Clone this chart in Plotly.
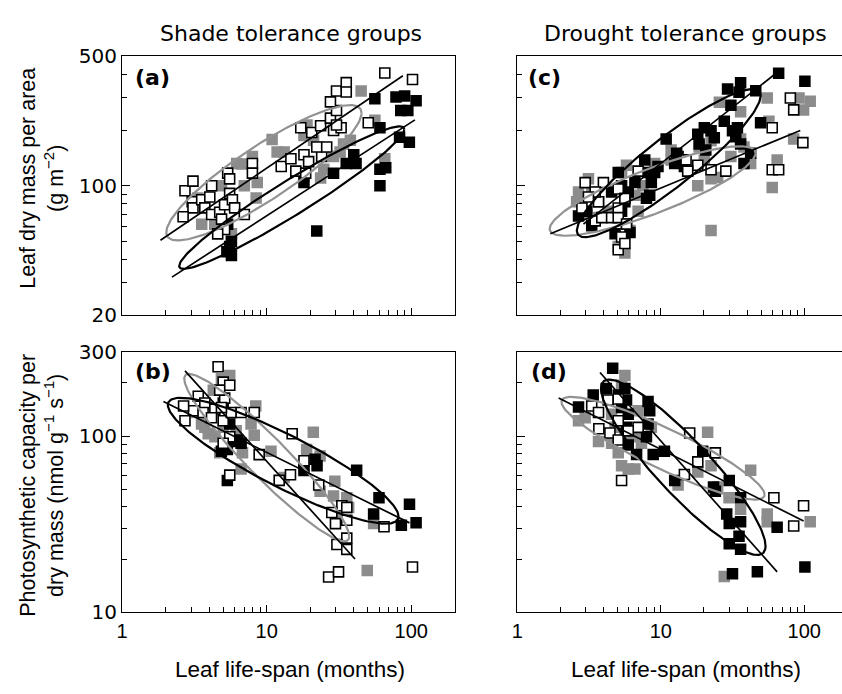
import numpy as np
import plotly.graph_objects as go

# ---------------- data (leaf life-span in months, trait values) ----------------
# Panel (a): leaf dry mass per area, shade tolerance groups
a_white_L = [2.72,3.09,3.05,3.09,2.64,3.55,3.73,4.16,4.04,4.16,4.73,4.87,5.11,5.37,5.54,5.54,5.79,6.0,5.11,4.58,7.0,7.96,7.96,12.6,14.7,15.9,18.1,19.5,18.6,24.0,22.2,20.5,23.6,27.6,29.0,30.4,32.7,27.6,30.4,35.5,35.5,30.4,17.2,26.0,50.4,65.6,102]
a_white_V = [94,106,82,76,68,84,76,100,87,70,72,66,79,117,109,91,84,76,58,55,70,132,117,127,140,120,147,135,117,144,162,194,211,232,199,255,206,284,325,361,321,213,206,162,219,407,375]
a_gray_L = [10.9,13.2,18.1,19.0,45,56,65.6,7.96,8.45,6.7,6.2,7.0,8.6,21.1,34,37.9,29.0,3.55,5.7,3.34,23.6,18.1,24.8,4.87,4.37,32.2,11.8]
a_gray_V = [178,152,187,213,325,226,140,144,86,131,132,100,104,176,168,176,144,62,55,86,110,113,123,100,62,152,152]
a_black_L = [5.3,5.54,5.7,5.7,5.37,22.2,18.1,29,35.5,41.5,56,60.7,60.7,60.7,66.6,78.4,90,84.6,94.7,108,83,97,40]
a_black_V = [44,47,42,50,62,57,104,117,132,132,295,206,100,123,125,302,306,255,255,288,183,172,147]

# Panel (b): photosynthetic capacity, shade tolerance groups
b_white_L = [4.61,5.0,5.12,4.73,5.55,3.36,3.73,3.11,2.66,2.72,3.63,4.38,4.15,5.0,5.69,6.65,8.2,5.55,5.0,5.55,8.87,15.0,12.2,14.6,18.1,22.9,33.1,35.8,28.2,29.9,35.8,35.8,30.6,35.8,26.8,31.4,64.8,102,4.86]
b_white_V = [247,202,164,182,194,168,154,139,148,122,136,142,127,122,136,136,136,99,91,60,78.5,103,56.1,60.3,72.4,52.8,40.3,39.4,36.9,31.9,33.3,26.4,24.3,22.8,15.9,17.0,30.6,18.1,145]
b_gray_L = [4.27,5.55,4.86,3.73,3.94,4.38,5.0,6.15,6.8,8.4,8.2,7.79,10.7,6.65,21.0,18.9,23.4,18.1,23.4,29.6,29.0,35.8,36.9,49.6,54.9,30.6,13.2,3.54,3.27,4.73]
b_gray_V = [182,220,211,112,103,99,112,107,80.3,148,101,117,82,65,105,84,77,65,48.6,55.5,45.7,44.7,39.4,17.3,31.9,34.7,58.3,117,136,80.3]
b_black_L = [5.0,5.34,4.86,5.85,6.31,6.65,5.34,18.1,21.6,22.3,41.9,59.8,54.9,85.4,97.2,108,5.55]
b_black_V = [154,84,82,93,95,91,56,63.8,73.9,67.9,64,44.7,36.2,31.2,41.1,32.2,117]

# Panel (c): leaf dry mass per area, drought tolerance groups
c_white_L = [2.97,2.82,3.68,3.98,3.49,3.88,4.54,5.05,5.05,5.05,5.62,5.77,5.33,5.05,5.62,6.95,15.0,18.1,15.4,22.4,28.4,59.8,80.0,84.4,97.8,59.8,66.3,3.49,3.13]
c_white_V = [104,75.8,82,104,64.6,67.3,67.3,96,75.8,67.3,85.5,62.1,52.9,45.1,48.8,120,138,129,120,122,120,206,298,257,171,122,122,92.5,87]
c_gray_L = [2.67,2.59,3.30,3.13,3.05,3.68,4.3,5.33,5.77,6.95,6.1,5.62,5.05,6.6,7.5,9.06,11.8,18.1,22.4,24.9,18.5,22.4,36.0,36.0,38.0,42.3,55.2,56.7,64.7,59.8,91.9,98.9,110,84.4,22.4,30.8,25.6,20.1,11.8]
c_gray_V = [92.5,82,92.5,109,70,67.3,72.8,118,129,72.8,57.3,43.3,47,89,100,132,138,100,109,111,162,175,251,179,162,132,298,223,138,98,298,257,286,179,57.3,144,283,138,156]
c_black_L = [2.67,3.05,3.30,3.68,4.54,5.05,5.33,5.62,5.33,5.77,4.8,6.1,5.93,6.6,7.73,8.15,8.59,8.37,9.06,7.94,9.56,10.9,12.9,12.5,13.2,14.6,18.1,18.5,20.1,22.4,20.6,23.6,27.7,29.2,30.8,31.6,34.2,36.0,35.1,36.0,38.0,42.3,45.9,49.6,66.3,101,33.3]
c_black_V = [68.6,72.8,60.9,82,92.5,118,100,82,72.8,62.1,55,56,92.5,104,138,118,104,89,118,85.5,127,179,150,132,144,127,190,168,206,198,156,182,223,333,272,198,206,360,320,168,132,150,326,219,406,367,184]

# Panel (d): photosynthetic capacity, drought tolerance groups
d_white_L = [3.30,3.68,4.3,5.05,3.7,4.42,5.05,5.05,6.95,5.33,15.9,18.1,14.6,24.0,61.4,84.4,98.9,5.93]
d_white_V = [148,136,160,162,110,104,122,95,112,56,104,71.4,60.5,80.3,44.7,30.9,40.3,107]
d_gray_L = [2.67,2.97,3.68,4.54,5.05,5.33,5.93,6.6,5.62,5.33,4.54,6.95,8.59,7.33,6.6,21.2,22.4,13.2,18.1,24.9,42.3,29.9,36.0,55.2,55.2,110,27.7,5.62,4.8]
d_gray_V = [122,127,93,91,80.3,67.9,65,65,220,194,133,139,112,91,99,105,67.9,52.8,62.5,51.5,64,44.7,38.5,36.2,32.7,32.7,16.0,99,112]
d_black_L = [4.62,4.17,3.38,2.67,5.05,5.62,5.77,5.93,5.33,8.15,8.37,8.15,7.94,6.78,8.85,10.6,5.77,12.5,19.6,23.3,24.0,30.0,36.0,28.8,30.0,36.0,35.1,30.0,36.0,31.6,47.1,64.7,101,5.93]
d_black_V = [242,186,171,146,171,186,160,133,145,157,139,117,99,78.5,78.5,82,112,56,82,51.5,48.6,56,44.7,36.2,31.9,32.7,27.0,24.5,22.8,16.6,17.0,30.4,18.1,89]

# Fitted lines: (L start, V start, L end, V end)
a_lines = [(1.84, 50.8, 87.5, 393), (2.21, 32.1, 106, 227)]
b_lines = [(2.72, 234, 40.8, 20.1), (1.93, 157, 97.2, 32.2)]
c_lines = [(1.70, 55.1, 93.8, 199), (2.89, 62.1, 63.0, 403)]
d_lines = [(1.94, 164, 98.9, 33.0), (3.77, 229, 64.7, 17.0)]

# Ellipses: (leftmost L, leftmost V, rightmost L, rightmost V, V at top of centre chord, colour)
a_ellipses = [(2.02, 56, 45.3, 247, 175, "gray"), (2.48, 36.9, 89.5, 202, 111, "black")]
b_ellipses = [(2.69, 211, 37.2, 27.0, 109, "gray"), (2.07, 150, 81.7, 35.0, 106, "black")]
c_ellipses = [(1.68, 58.5, 45.8, 150, 126, "gray"), (2.60, 57.3, 49.7, 307, 194, "black")]
d_ellipses = [(2.03, 156, 52.9, 46.6, 114, "gray"), (3.83, 186, 53.7, 23.8, 110, "black")]

# tick values
lma_major = [20, 100, 500]
lma_minor = [30, 40, 50, 60, 70, 80, 90, 200, 300, 400]
amass_major = [10, 100, 300]
amass_minor = [20, 30, 40, 50, 60, 70, 80, 90, 200]
ls_major = [1, 10, 100]
ls_minor = [2, 3, 4, 5, 6, 7, 8, 9, 20, 30, 40, 50, 60, 70, 80, 90, 200]

GRAY = "#8c8c8c"
ELL_GRAY = "#929292"

fig = go.Figure()


def add_points(L, V, kind, xa, ya):
    if kind == "gray":
        mk = dict(symbol="square", size=11.5, color=GRAY, line=dict(width=0))
    elif kind == "black":
        mk = dict(symbol="square", size=11.5, color="black", line=dict(width=0))
    else:
        mk = dict(symbol="square", size=10, color="white", line=dict(width=1.6, color="black"))
    fig.add_trace(go.Scatter(x=L, y=V, mode="markers", marker=mk, xaxis=xa, yaxis=ya,
                             showlegend=False, hoverinfo="skip"))


def add_ellipse(spec, xa, ya):
    Ll, Vl, Lr, Vr, Vt, col = spec
    cx = (np.log10(Ll) + np.log10(Lr)) / 2
    cy = (np.log10(Vl) + np.log10(Vr)) / 2
    ax_ = np.log10(Lr) - cx
    ay_ = np.log10(Vr) - cy
    by_ = np.log10(Vt) - cy
    t = np.linspace(0, 2 * np.pi, 200)
    xs = 10 ** (cx + np.cos(t) * ax_)
    ys = 10 ** (cy + np.cos(t) * ay_ + np.sin(t) * by_)
    fig.add_trace(go.Scatter(x=xs, y=ys, mode="lines",
                             line=dict(color=ELL_GRAY if col == "gray" else "black", width=2.2),
                             xaxis=xa, yaxis=ya, showlegend=False, hoverinfo="skip"))


def add_line(spec, xa, ya):
    L0, V0, L1, V1 = spec
    fig.add_trace(go.Scatter(x=[L0, L1], y=[V0, V1], mode="lines",
                             line=dict(color="black", width=1.7),
                             xaxis=xa, yaxis=ya, showlegend=False, hoverinfo="skip"))


panels = [
    ("x", "y", (a_gray_L, a_gray_V), (a_black_L, a_black_V), (a_white_L, a_white_V), a_ellipses, a_lines),
    ("x2", "y2", (b_gray_L, b_gray_V), (b_black_L, b_black_V), (b_white_L, b_white_V), b_ellipses, b_lines),
    ("x3", "y3", (c_gray_L, c_gray_V), (c_black_L, c_black_V), (c_white_L, c_white_V), c_ellipses, c_lines),
    ("x4", "y4", (d_gray_L, d_gray_V), (d_black_L, d_black_V), (d_white_L, d_white_V), d_ellipses, d_lines),
]
for xa, ya, g, b, w, ells, lns in panels:
    add_points(*g, "gray", xa, ya)
    add_points(*b, "black", xa, ya)
    add_points(*w, "white", xa, ya)
    for e in ells:
        add_ellipse(e, xa, ya)
    for ln in lns:
        add_line(ln, xa, ya)

W, H = 842, 694
LEFT_X = [117 / W, 452 / W]
RIGHT_X = [515 / W, 1.0]
TOP_Y = [1 - 314 / H, 1 - 46 / H]
BOT_Y = [1 - 622 / H, 1 - 352 / H]

tick_font_y = dict(family="DejaVu Sans", size=20, color="black")
tick_font_x = dict(family="Liberation Sans", size=20, color="black")


def xaxis(domain, rng, anchor, labels):
    return dict(type="log", domain=domain, range=rng, anchor=anchor,
                showline=True, linecolor="black", linewidth=1.3, mirror=True,
                showgrid=False, zeroline=False,
                tickmode="array", tickvals=ls_major, ticktext=[str(v) for v in ls_major],
                ticks="inside", ticklen=7, tickwidth=1.2, tickcolor="black",
                showticklabels=labels, tickfont=tick_font_x,
                minor=dict(tickmode="array", tickvals=ls_minor, ticks="inside", ticklen=5,
                           tickwidth=1.2, tickcolor="black", showgrid=False))


def yaxis(domain, rng, anchor, major, minor, labels, mirror):
    return dict(type="log", domain=domain, range=rng, anchor=anchor,
                showline=True, linecolor="black", linewidth=1.3, mirror=mirror,
                showgrid=False, zeroline=False,
                tickmode="array", tickvals=major, ticktext=[str(v) for v in major],
                ticks="inside", ticklen=8, tickwidth=1.2, tickcolor="black",
                showticklabels=labels, tickfont=tick_font_y,
                minor=dict(tickmode="array", tickvals=minor, ticks="inside", ticklen=5,
                           tickwidth=1.2, tickcolor="black", showgrid=False))


lx = [0, np.log10(200)]
rx = [0, 2.263]
ra = [np.log10(20), np.log10(500)]
rb = [1, np.log10(300)]

fig.update_layout(
    width=W, height=H, margin=dict(l=0, r=0, t=0, b=0),
    paper_bgcolor="white", plot_bgcolor="white",
    xaxis=xaxis(LEFT_X, lx, "y", False),
    yaxis=yaxis(TOP_Y, ra, "x", lma_major, lma_minor, True, True),
    xaxis2=xaxis(LEFT_X, lx, "y2", True),
    yaxis2=yaxis(BOT_Y, rb, "x2", amass_major, amass_minor, True, True),
    xaxis3=xaxis(RIGHT_X, rx, "y3", False),
    yaxis3=yaxis(TOP_Y, ra, "x3", lma_major, lma_minor, False, False),
    xaxis4=xaxis(RIGHT_X, rx, "y4", True),
    yaxis4=yaxis(BOT_Y, rb, "x4", amass_major, amass_minor, False, False),
)

ann = []
title_font = dict(family="DejaVu Sans", size=22, color="black")
ann.append(dict(text="Shade tolerance groups", x=287 / W, y=1 - 22 / H, xref="paper", yref="paper",
                showarrow=False, xanchor="center", yanchor="middle", font=title_font))
ann.append(dict(text="Drought tolerance groups", x=684 / W, y=1 - 22 / H, xref="paper", yref="paper",
                showarrow=False, xanchor="center", yanchor="middle", font=title_font))
xt_font = dict(family="Liberation Sans", size=22.5, color="black")
for cx in (286, 685):
    ann.append(dict(text="Leaf life-span (months)", x=cx / W, y=1 - 681 / H, xref="paper", yref="paper",
                    showarrow=False, xanchor="center", yanchor="middle", font=xt_font))
yt_font = dict(family="Liberation Sans", size=21.5, color="black")
ann.append(dict(text="Leaf dry mass per area<br>(g m<sup>−2</sup>)", x=36 / W, y=1 - 172 / H,
                xref="paper", yref="paper", showarrow=False, textangle=-90,
                xanchor="center", yanchor="middle", font=yt_font))
ann.append(dict(text="Photosynthetic capacity per<br>dry mass (nmol g<sup>−1</sup> s<sup>−1</sup>)",
                x=36 / W, y=1 - 490 / H, xref="paper", yref="paper", showarrow=False, textangle=-90,
                xanchor="center", yanchor="middle", font=yt_font))
lab_font = dict(family="DejaVu Sans", size=22, color="black")
for txt, px, py in (("(a)", 128, 68), ("(b)", 128, 372), ("(c)", 524, 68), ("(d)", 527, 372)):
    ann.append(dict(text="<b>%s</b>" % txt, x=px / W, y=1 - py / H, xref="paper", yref="paper",
                    showarrow=False, xanchor="left", yanchor="middle", font=lab_font))
fig.update_layout(annotations=ann)

fig.write_html("out.html")
